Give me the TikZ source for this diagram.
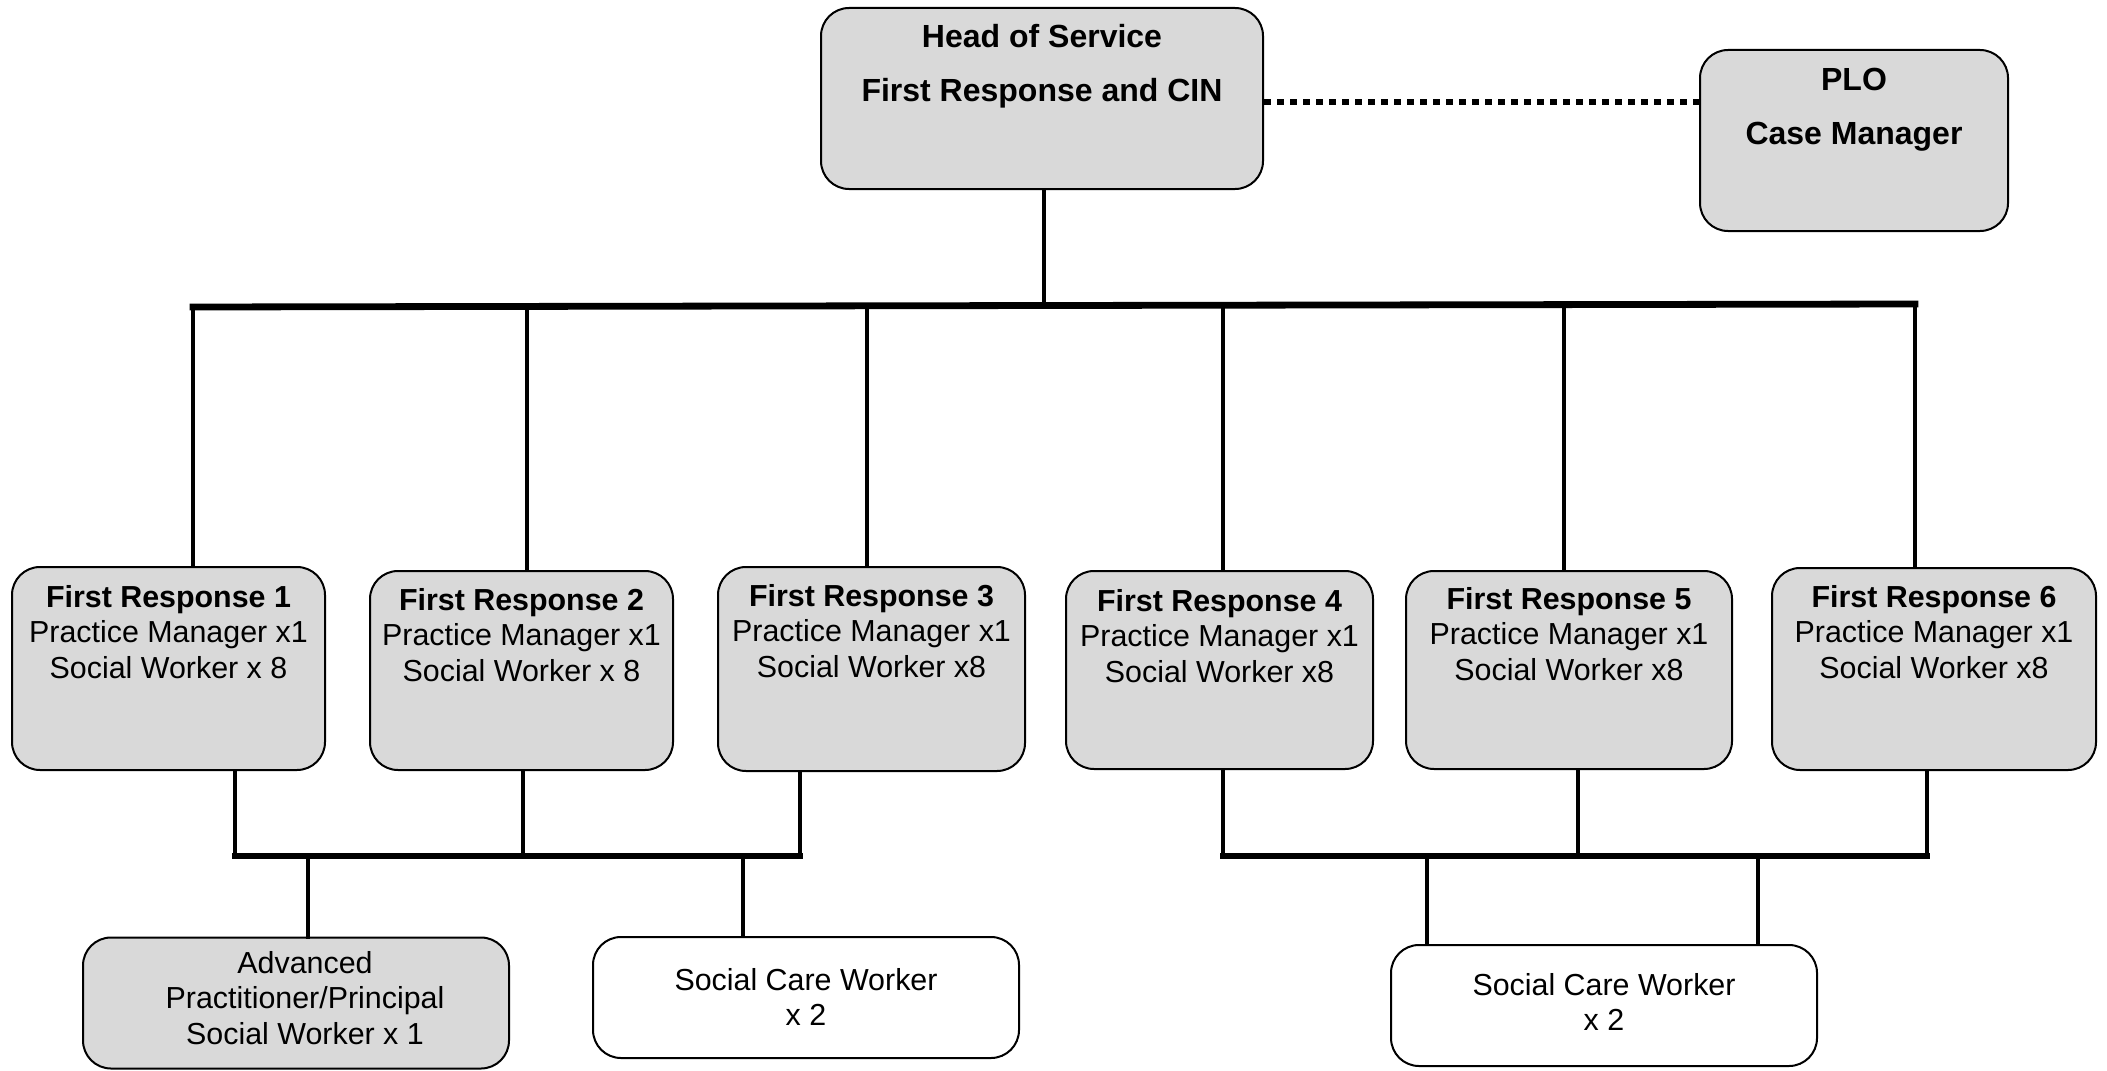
\documentclass[tikz,border=0pt]{standalone}
\usepackage{fontspec}
\setmainfont{Liberation Sans}
\definecolor{boxgray}{HTML}{D9D9D9}
\begin{document}
\begin{tikzpicture}[x=0.5pt,y=-0.5pt,
  gbox/.style={draw=black, line width=1pt, rounded corners=14pt, fill=boxgray, inner sep=0pt},
  wbox/.style={draw=black, line width=1pt, rounded corners=14pt, fill=white, inner sep=0pt},
  headtxt/.style={align=center, inner sep=0pt, font=\fontsize{16}{27}\selectfont\bfseries},
  frtxt/.style={align=center, inner sep=0pt, font=\fontsize{15.2}{17.6}\selectfont},
  conn/.style={line width=2.4pt, line cap=rect},
  thin/.style={line width=1.8pt},
  bar/.style={line width=3.4pt, line cap=rect},
  dotline/.style={line width=3.2pt, dash pattern=on 3.5pt off 3pt}]
\useasboundingbox (0,0) rectangle (2107,1070);

% boxes
\node[gbox, minimum width=221pt, minimum height=90.5pt] (head) at (1042,98.5) {};
\node[headtxt] (headt) at (1042,66) {Head of Service\\First Response and CIN};
\node[gbox, minimum width=154pt, minimum height=90.5pt] (plo) at (1854,140.5) {};
\node[headtxt] (plot) at (1854,110) {PLO\\Case Manager};

\node[gbox, minimum width=156.5pt, minimum height=101.5pt] (fr1) at (168.5,668.5) {};
\node[gbox, minimum width=151.5pt, minimum height=99.5pt] (fr2) at (521.5,670.5) {};
\node[gbox, minimum width=153.5pt, minimum height=102pt] (fr3) at (871.5,669) {};
\node[gbox, minimum width=153.5pt, minimum height=99pt] (fr4) at (1219.5,670) {};
\node[gbox, minimum width=163pt, minimum height=99pt] (fr5) at (1569,670) {};
\node[gbox, minimum width=162pt, minimum height=101pt] (fr6) at (1934,669) {};

\node[frtxt] (fr1t) at (168.5,632) {\textbf{First Response 1}\\Practice Manager x1\\Social Worker x 8};
\node[frtxt] (fr2t) at (521.5,635) {\textbf{First Response 2}\\Practice Manager x1\\Social Worker x 8};
\node[frtxt] (fr3t) at (871.5,631) {\textbf{First Response 3}\\Practice Manager x1\\Social Worker x8};
\node[frtxt] (fr4t) at (1219.5,636) {\textbf{First Response 4}\\Practice Manager x1\\Social Worker x8};
\node[frtxt] (fr5t) at (1569,634) {\textbf{First Response 5}\\Practice Manager x1\\Social Worker x8};
\node[frtxt] (fr6t) at (1934,632) {\textbf{First Response 6}\\Practice Manager x1\\Social Worker x8};

\node[gbox, minimum width=213pt, minimum height=65.5pt] (adv) at (296,1003) {};
\node[frtxt] (advt) at (305,998) {Advanced\\Practitioner/Principal\\Social Worker x 1};
\node[wbox, minimum width=213pt, minimum height=60.5pt] (scwl) at (806,997.5) {};
\node[frtxt] (scwlt) at (806,997) {Social Care Worker\\x 2};
\node[wbox, minimum width=213pt, minimum height=60.5pt] (scwr) at (1604,1005.5) {};
\node[frtxt] (scwrt) at (1604,1002) {Social Care Worker\\x 2};

% dotted link
\draw[dotline] (head.east |- 0,102) -- (plo.west |- 0,102);

% top tree
\coordinate (hb) at (1044,306);
\draw[thin] (head.south -| hb) -- (hb);
\coordinate (tl) at (193,307);
\coordinate (tr) at (1915,304);
\draw[bar] (tl) -- (tr);
\coordinate (t1) at (193,307);
\coordinate (t2) at (527,307);
\coordinate (t3) at (867,306);
\coordinate (t4) at (1223,305);
\coordinate (t5) at (1564,305);
\coordinate (t6) at (1915,304);
\draw[conn] (t1) -- (t1 |- fr1.north);
\draw[conn] (t2) -- (t2 |- fr2.north);
\draw[conn] (t3) -- (t3 |- fr3.north);
\draw[conn] (t4) -- (t4 |- fr4.north);
\draw[conn] (t5) -- (t5 |- fr5.north);
\draw[conn] (t6) -- (t6 |- fr6.north);

% bottom left
\coordinate (b1) at (235,856);
\coordinate (b2) at (523,856);
\coordinate (b3) at (800,856);
\draw[conn] (b1 |- fr1.south) -- (b1);
\draw[conn] (b2 |- fr2.south) -- (b2);
\draw[conn] (b3 |- fr3.south) -- (b3);
\draw[bar] (b1) -- (b3);
\coordinate (d1) at (308,856);
\coordinate (d2) at (743,856);
\draw[conn] (d1) -- (d1 |- adv.north);
\draw[conn] (d2) -- (d2 |- scwl.north);

% bottom right
\coordinate (b4) at (1223,856);
\coordinate (b5) at (1578,856);
\coordinate (b6) at (1927,856);
\draw[conn] (b4 |- fr4.south) -- (b4);
\draw[conn] (b5 |- fr5.south) -- (b5);
\draw[conn] (b6 |- fr6.south) -- (b6);
\draw[bar] (b4) -- (b6);
\coordinate (d3) at (1427,856);
\coordinate (d4) at (1758,856);
\draw[conn] (d3) -- (d3 |- scwr.north);
\draw[conn] (d4) -- (d4 |- scwr.north);
\end{tikzpicture}
\end{document}
